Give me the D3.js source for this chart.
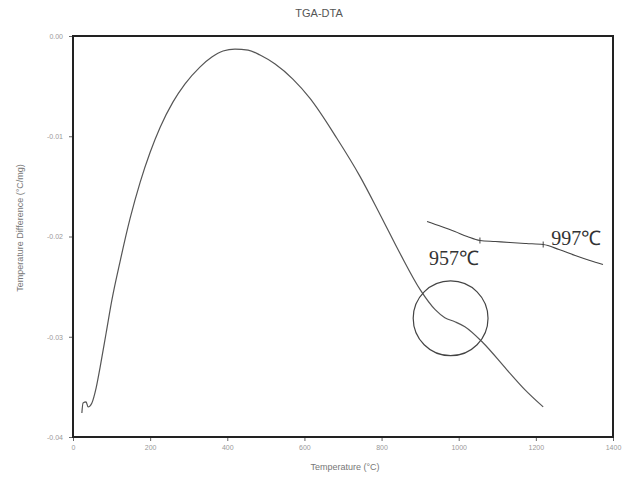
<!DOCTYPE html>
<html>
<head>
<meta charset="utf-8">
<script src="https://cdn.jsdelivr.net/npm/d3@7/dist/d3.min.js"></script>
<style>
  html, body { margin: 0; padding: 0; background: #fff; }
  svg { display: block; }
</style>
</head>
<body>
<svg id="chart" width="638" height="478"></svg>
<script>
// DTA trace: temperature (°C) and temperature difference (°C/mg)
const temps = [23, 26, 34, 39, 49, 60, 70, 86, 101, 122, 148, 174, 200, 226, 259, 290, 329,
  360, 389, 420, 454, 485, 524, 570, 614, 684, 744, 796, 848, 900, 939, 964, 990, 1016,
  1063, 1125, 1172, 1219];
const diffs = [-0.0376, -0.0366, -0.0365, -0.0370, -0.0366, -0.0351, -0.0331, -0.0296,
  -0.0263, -0.0225, -0.0182, -0.0146, -0.0116, -0.0091, -0.0066, -0.0048, -0.0031, -0.0021,
  -0.0015, -0.0013, -0.0014, -0.0019, -0.0028, -0.0043, -0.0062, -0.0102, -0.0140, -0.0178,
  -0.0217, -0.0253, -0.0273, -0.0281, -0.0285, -0.0290, -0.0306, -0.0333, -0.0353, -0.0370];

// enlarged inset of the transition region, with the two onset markers
const insetTemps = [918, 955, 990, 1022, 1055, 1095, 1133, 1175, 1219, 1260, 1302, 1340, 1374];
const insetDiffs = [-0.0185, -0.0190, -0.0195, -0.0200, -0.0204, -0.0205, -0.0206, -0.0207,
  -0.0208, -0.0213, -0.0219, -0.0224, -0.0228];
const markerTemps = [1055, 1219];
const markerDiffs = [-0.0204, -0.0208];

// highlighted region and labels
const circleCenter = [979, -0.02816];
const circleRadiusT = 97;
const labels = ["957℃", "997℃"];
const labelTemps = [923, 1240];
const labelDiffs = [-0.02285, -0.0208];

const xTicks = [0, 200, 400, 600, 800, 1000, 1200, 1400];
const yTicks = [0, -0.01, -0.02, -0.03, -0.04];
const yTickLabels = ["0.00", "-0.01", "-0.02", "-0.03", "-0.04"];

const svg = d3.select("#chart");
const L = 73, R = 613, T = 36, B = 437;

const x = d3.scaleLinear().domain([0, 1400]).range([L, R]);
const y = d3.scaleLinear().domain([-0.04, 0]).range([B, T]);

// title
svg.append("text").attr("x", 319).attr("y", 17).attr("text-anchor", "middle")
  .attr("font-family", "Liberation Sans, Arial, sans-serif").attr("font-size", 11)
  .attr("fill", "#555").text("TGA-DTA");

// axes
const xAxis = d3.axisBottom(x).tickValues(xTicks).tickSize(4).tickSizeOuter(0).tickPadding(4)
  .tickFormat(d3.format("d"));
const gx = svg.append("g").attr("transform", `translate(0,${B})`).call(xAxis);
const yAxis = d3.axisLeft(y).tickValues(yTicks).tickSize(4).tickSizeOuter(0).tickPadding(6)
  .tickFormat((d, i) => yTickLabels[i]);
const gy = svg.append("g").attr("transform", `translate(${L},0)`).call(yAxis);
[gx, gy].forEach(g => {
  g.select(".domain").remove();
  g.selectAll(".tick line").attr("stroke", "#666");
  g.selectAll(".tick text").attr("fill", "#999").attr("font-size", 7)
    .attr("font-family", "Liberation Sans, Arial, sans-serif");
});

// plot frame
svg.append("rect").attr("x", L).attr("y", T).attr("width", R - L).attr("height", B - T)
  .attr("fill", "none").attr("stroke", "#222").attr("stroke-width", 2);

// axis titles
svg.append("text").attr("x", 345).attr("y", 470).attr("text-anchor", "middle")
  .attr("font-family", "Liberation Sans, Arial, sans-serif").attr("font-size", 9)
  .attr("fill", "#777").text("Temperature (°C)");
svg.append("text").attr("transform", "translate(23,228) rotate(-90)").attr("text-anchor", "middle")
  .attr("font-family", "Liberation Sans, Arial, sans-serif").attr("font-size", 9)
  .attr("fill", "#777").text("Temperature Difference (°C/mg)");

const line = d3.line().x(d => x(d[0])).y(d => y(d[1])).curve(d3.curveMonotoneX);

// main DTA curve
svg.append("path").datum(temps.map((t, i) => [t, diffs[i]]))
  .attr("d", line)
  .attr("fill", "none").attr("stroke", "#555").attr("stroke-width", 1.2);

// inset curve
svg.append("path").datum(insetTemps.map((t, i) => [t, insetDiffs[i]]))
  .attr("d", line).attr("fill", "none").attr("stroke", "#444").attr("stroke-width", 1.1);

// onset markers
svg.selectAll(".marker").data(markerTemps.map((t, i) => [t, markerDiffs[i]])).enter()
  .append("line").attr("class", "marker")
  .attr("x1", d => x(d[0])).attr("x2", d => x(d[0]))
  .attr("y1", d => y(d[1]) - 3).attr("y2", d => y(d[1]) + 3)
  .attr("stroke", "#444").attr("stroke-width", 1);

// highlight circle
svg.append("circle").attr("cx", x(circleCenter[0])).attr("cy", y(circleCenter[1]))
  .attr("r", x(circleRadiusT) - x(0))
  .attr("fill", "none").attr("stroke", "#444").attr("stroke-width", 1.2);

// temperature labels
svg.selectAll(".tlabel").data(labels).enter().append("text").attr("class", "tlabel")
  .attr("x", (d, i) => x(labelTemps[i])).attr("y", (d, i) => y(labelDiffs[i]))
  .attr("font-family", "Liberation Serif, Times New Roman, serif").attr("font-size", 20)
  .attr("fill", "#333").text(d => d);
</script>
</body>
</html>
